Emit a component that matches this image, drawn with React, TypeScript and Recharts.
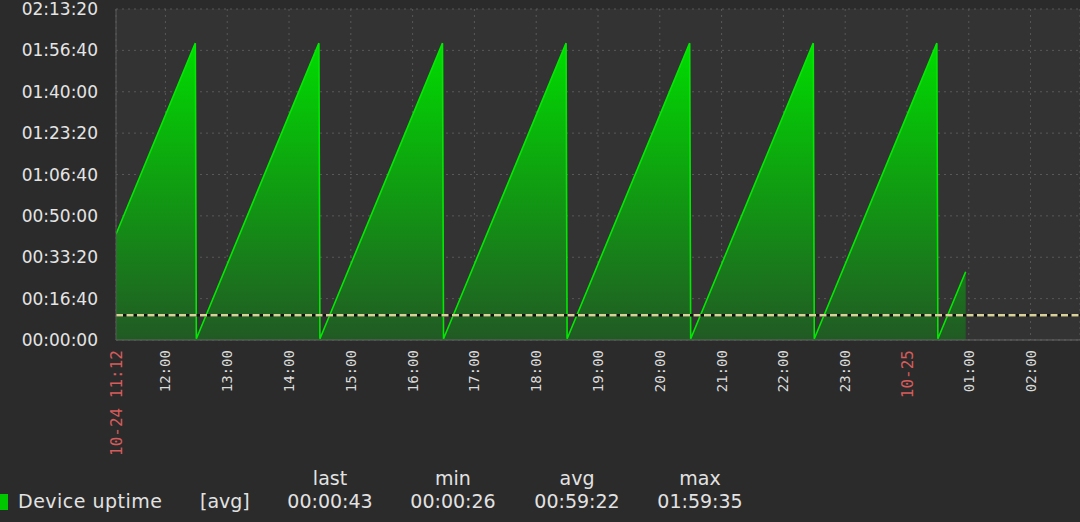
import {
	Area,
	AreaChart,
	CartesianGrid,
	ReferenceLine,
	XAxis,
	YAxis,
} from "recharts";

// sample time in minutes since 10-24 00:00, uptime in seconds
const sampleMinutes = [
	672, 749, 750, 869, 870, 989, 990, 1109, 1110, 1229, 1230, 1349, 1350, 1469,
	1470, 1497,
];
const uptimeSeconds = [
	2555, 7175, 30, 7175, 30, 7175, 30, 7175, 30, 7175, 30, 7175, 30, 7175, 30,
	1650,
];

const xTicks = [
	672, 720, 780, 840, 900, 960, 1020, 1080, 1140, 1200, 1260, 1320, 1380, 1440,
	1500, 1560,
];
const xTickLabels = [
	"10-24 11:12", "12:00", "13:00", "14:00", "15:00", "16:00", "17:00", "18:00",
	"19:00", "20:00", "21:00", "22:00", "23:00", "10-25", "01:00", "02:00",
];
const yTicks = [0, 1000, 2000, 3000, 4000, 5000, 6000, 7000, 8000];
const triggerSeconds = 600;

const legendHeaders = ["last", "min", "avg", "max"];
const legendValues = ["00:00:43", "00:00:26", "00:59:22", "01:59:35"];
const legendCenters = [330, 453, 577, 700];

const data = sampleMinutes.map((t, i) => ({ t, uptime: uptimeSeconds[i] }));

function pad(n: number): string {
	return String(n).padStart(2, "0");
}

function formatDuration(sec: number): string {
	const h = Math.floor(sec / 3600);
	const m = Math.floor((sec % 3600) / 60);
	const s = sec % 60;
	return `${pad(h)}:${pad(m)}:${pad(s)}`;
}

function YTick({ x, y, payload }: any) {
	return (
		<text
			x={x}
			y={y}
			dy="0.36em"
			textAnchor="end"
			fill="#e4e4e4"
			style={{ fontFamily: "DejaVu Sans", fontSize: 17 }}>
			{formatDuration(payload.value)}
		</text>
	);
}

function XTick({ x, y, payload }: any) {
	const label = xTickLabels[xTicks.indexOf(payload.value)] ?? "";
	const isDate = label.includes("-");
	return (
		<text
			x={x}
			y={y}
			dy="0.36em"
			textAnchor="end"
			transform={`rotate(-90, ${x}, ${y})`}
			fill={isDate ? "#d65c5c" : "#dcdcdc"}
			style={{ fontFamily: "DejaVu Sans Mono", fontSize: isDate ? 16 : 14 }}>
			{label}
		</text>
	);
}

export default function App() {
	return (
		<div
			style={{
				position: "absolute",
				left: 0,
				top: 0,
				width: 1080,
				height: 522,
				background: "#2b2b2b",
				overflow: "hidden",
			}}>
			<AreaChart
				width={1080}
				height={522}
				data={data}
				margin={{ top: 9, right: 0, left: 0, bottom: 0 }}>
				<defs>
					<linearGradient id="uptimeFill" x1="0" y1="0" x2="0" y2="1">
						<stop offset="0%" stopColor="#00dc00" />
						<stop offset="100%" stopColor="#215a24" />
					</linearGradient>
				</defs>
				<CartesianGrid
					fill="#333333"
					stroke="#585858"
					strokeDasharray="2 4"
				/>
				<XAxis
					type="number"
					dataKey="t"
					domain={[672, 1608]}
					ticks={xTicks}
					interval={0}
					height={182}
					tickSize={0}
					tickMargin={10}
					tick={<XTick />}
					axisLine={{ stroke: "#666666" }}
					tickLine={false}
					allowDataOverflow
				/>
				<YAxis
					type="number"
					domain={[0, 8000]}
					ticks={yTicks}
					interval={0}
					width={116}
					tickSize={0}
					tickMargin={18}
					tick={<YTick />}
					axisLine={{ stroke: "#5a5a5a" }}
					tickLine={false}
				/>
				<Area
					type="linear"
					dataKey="uptime"
					stroke="#00ea00"
					strokeWidth={1.6}
					fill="url(#uptimeFill)"
					fillOpacity={1}
					dot={false}
					activeDot={false}
					isAnimationActive={false}
				/>
				<ReferenceLine y={triggerSeconds} stroke="#111111" strokeWidth={2.5} />
				<ReferenceLine
					y={triggerSeconds}
					stroke="#d8d29a"
					strokeWidth={2.5}
					strokeDasharray="7 3.5"
				/>
			</AreaChart>
			<div
				style={{
					position: "absolute",
					left: 0,
					top: 0,
					width: 1080,
					height: 522,
					fontFamily: "DejaVu Sans",
					fontSize: 19,
					color: "#e2e2e2",
					pointerEvents: "none",
				}}>
				<div
					style={{
						position: "absolute",
						left: 0,
						top: 494,
						width: 8,
						height: 16,
						background: "#00c800",
					}}
				/>
				<div
					style={{
						position: "absolute",
						left: 18,
						top: 490,
						letterSpacing: 0.5,
						whiteSpace: "nowrap",
					}}>
					Device uptime
				</div>
				<div style={{ position: "absolute", left: 200, top: 490 }}>[avg]</div>
				{legendHeaders.map((h, i) => (
					<div
						key={h}
						style={{
							position: "absolute",
							left: legendCenters[i] - 60,
							width: 120,
							top: 467,
							textAlign: "center",
						}}>
						{h}
					</div>
				))}
				{legendValues.map((v, i) => (
					<div
						key={legendHeaders[i]}
						style={{
							position: "absolute",
							left: legendCenters[i] - 60,
							width: 120,
							top: 490,
							textAlign: "center",
						}}>
						{v}
					</div>
				))}
			</div>
		</div>
	);
}
